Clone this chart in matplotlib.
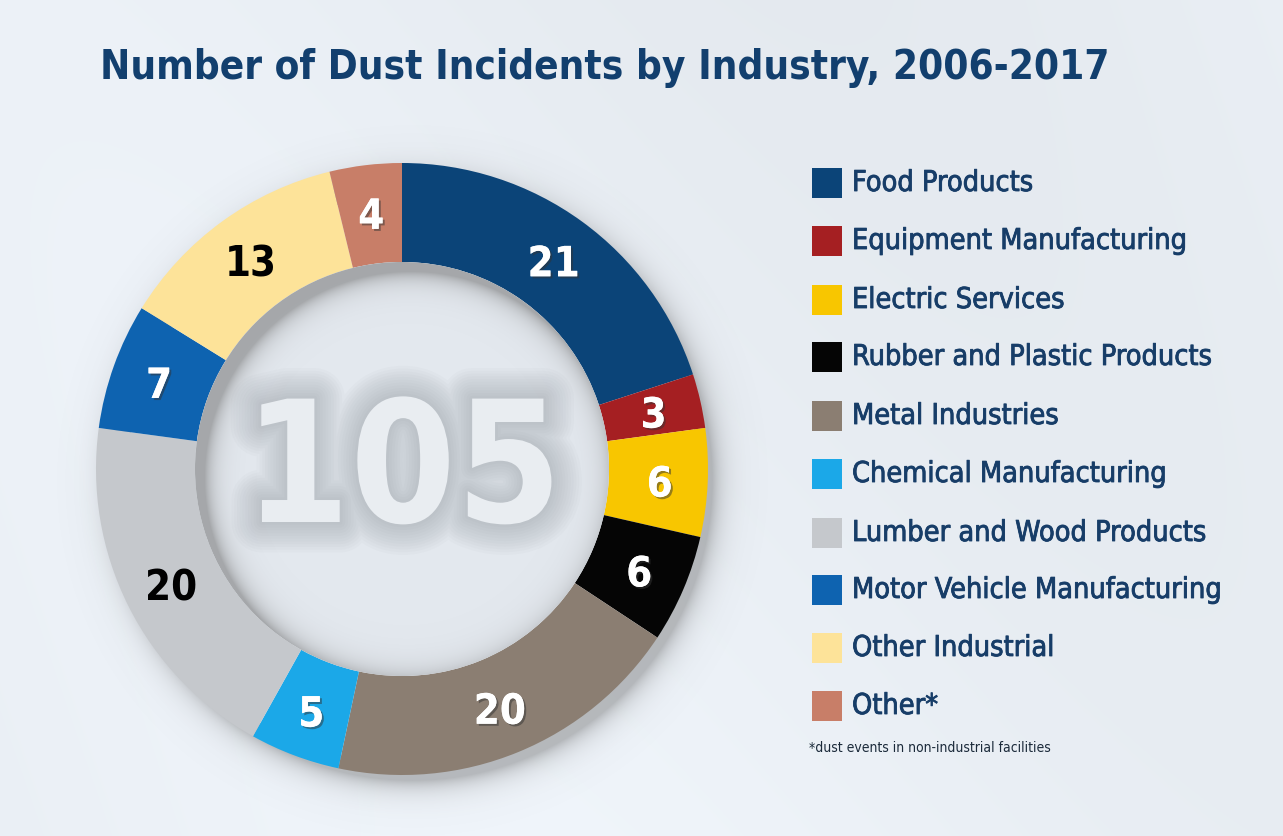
import numpy as np
import matplotlib
matplotlib.use("Agg")
import matplotlib.pyplot as plt
import matplotlib.patheffects as pe
from matplotlib.patches import Circle, Rectangle
from matplotlib import font_manager as fm
from matplotlib.font_manager import FontProperties

# ---------------- data ----------------
categories = ["Food Products", "Equipment Manufacturing", "Electric Services",
              "Rubber and Plastic Products", "Metal Industries", "Chemical Manufacturing",
              "Lumber and Wood Products", "Motor Vehicle Manufacturing",
              "Other Industrial", "Other*"]
values = [21, 3, 6, 6, 20, 5, 20, 7, 13, 4]
colors = ["#0b4478", "#a51f22", "#f8c600", "#050505", "#8b7e72", "#1ba8e8",
          "#c5c8cc", "#0e63b0", "#fde399", "#c87e68"]
label_colors = ["white", "white", "white", "white", "white", "white",
                "black", "white", "black", "white"]
total_label = str(sum(values))
title = "Number of Dust Incidents by Industry, 2006-2017"
footnote = "*dust events in non-industrial facilities"


# ---------------- font choice: prefer a condensed face if one is installed ----------------
def find_font(bold):
    cands = []
    for f in fm.fontManager.ttflist:
        fn = f.fname.lower()
        st = str(f.stretch).lower()
        is_cond = ("condensed" in fn or "narrow" in fn or "condensed" in st or "narrow" in st
                   or (st.isdigit() and int(st) < 500))
        if not is_cond or "oblique" in fn or "italic" in fn or f.style != "normal":
            continue
        w = f.weight if isinstance(f.weight, int) else (700 if "bold" in str(f.weight) else 400)
        is_bold = w >= 600
        if is_bold == bold:
            cands.append(f.fname)
    if cands:
        cands.sort(key=lambda p: (0 if "dejavu" in p.lower() else 1, p))
        return FontProperties(fname=cands[0])
    return FontProperties(family=["Roboto", "DejaVu Sans"],
                          weight="bold" if bold else "normal")


FP_BOLD = find_font(True)
FP_REG = find_font(False)

W, H = 1283, 836
fig = plt.figure(figsize=(W / 100, H / 100), dpi=100)
ax = fig.add_axes([0, 0, 1, 1])
ax.set_xlim(0, W)
ax.set_ylim(0, H)
ax.axis("off")
renderer = fig.canvas.get_renderer()


def fit_width(t, target_px, max_size):
    bb = t.get_window_extent(renderer)
    size = t.get_fontsize() * target_px / max(bb.width, 1)
    t.set_fontsize(min(size, max_size))


# background gradient
yy, xx = np.mgrid[0:H, 0:W]
base = np.array([0.912, 0.932, 0.955])
band = 0.015 * np.cos((xx - yy * 0.6) / 260.0) + 0.012 * (yy / H)
bg = np.clip(base[None, None, :] + band[..., None], 0, 1)
ax.imshow(bg, extent=(0, W, 0, H), origin="upper", zorder=0, aspect="auto")

cx, cy = 402, H - 469
r_out, r_in = 306, 207

# outer drop shadow
sx, sy = cx + 10, cy - 12
d = np.sqrt((xx - sx) ** 2 + ((H - 1 - yy) - sy) ** 2)
sh = np.exp(-np.clip(d - r_out + 6, 0, None) / 12.0) * 0.40
sh[d < r_out - 20] = 0
shadow = np.zeros((H, W, 4))
shadow[..., :3] = 0.38
shadow[..., 3] = sh
ax.imshow(shadow, extent=(0, W, 0, H), origin="upper", zorder=1, aspect="auto")

# donut
wedges, _ = ax.pie(values, colors=colors, startangle=90, counterclock=False,
                   radius=r_out, center=(cx, cy),
                   wedgeprops=dict(width=r_out - r_in, linewidth=0))
for w in wedges:
    w.set_zorder(3)
ax.set_xlim(0, W)
ax.set_ylim(0, H)
ax.set_aspect("auto")

# inner hole with thin soft shadow along its upper-left edge
hole = Circle((cx, cy), r_in, facecolor="#e3e8ee", edgecolor="none", zorder=4)
ax.add_patch(hole)
hx, hy = cx + 9, cy - 10
dh = np.sqrt((xx - hx) ** 2 + ((H - 1 - yy) - hy) ** 2)
dc = np.sqrt((xx - cx) ** 2 + ((H - 1 - yy) - cy) ** 2)
a = 0.50 * np.exp(-np.clip(r_in - dh, 0, None) / 10.0) \
    + 0.10 * np.exp(-np.clip(r_in - dc, 0, None) / 14.0)
a = np.clip(a, 0, 0.55)
a[dc > r_in + 2] = 0
hs = np.zeros((H, W, 4))
hs[..., :3] = 0.45
hs[..., 3] = a
im = ax.imshow(hs, extent=(0, W, 0, H), origin="upper", zorder=5, aspect="auto")
im.set_clip_path(Circle((cx, cy), r_in, transform=ax.transData))

# centre number with a soft grey glow behind it
glow = [pe.Stroke(linewidth=lw, foreground="#7d848b", alpha=0.035) for lw in range(44, 2, -4)]
tc = ax.text(cx + 1, cy - 6, total_label, ha="center", va="center",
             fontproperties=FP_BOLD, color="#e9edf1", zorder=6,
             path_effects=glow + [pe.Normal()])
tc.set_fontsize(150)
fit_width(tc, 318, 230)

# segment labels
cum = np.cumsum([0] + values[:-1])
r_mid = 258
for v, c0, lc in zip(values, cum, label_colors):
    ang = np.deg2rad(90 - 360.0 * (c0 + v / 2) / sum(values))
    x = cx + r_mid * np.cos(ang)
    y = cy + r_mid * np.sin(ang) - 4
    effects = [pe.withSimplePatchShadow(offset=(1.5, -1.5), shadow_rgbFace="#333333", alpha=0.5), pe.Normal()] \
        if lc == "white" else []
    t = ax.text(x, y, str(v), ha="center", va="center", fontproperties=FP_BOLD,
                color=lc, zorder=7, path_effects=effects)
    t.set_fontsize(30)

# title
tt = ax.text(100, H - 68, title, ha="left", va="center", fontproperties=FP_BOLD,
             color="#123f6e", zorder=7)
tt.set_fontsize(40)
fit_width(tt, 1008, 40)

# legend
leg_y = [183, 241, 300, 357, 416, 474, 533, 590, 648, 706]
texts = []
for cat, col, py in zip(categories, colors, leg_y):
    ax.add_patch(Rectangle((812, H - py - 15), 30, 30, facecolor=col, edgecolor="none", zorder=7))
    t = ax.text(852, H - py, cat, ha="left", va="center", fontproperties=FP_REG,
                color="#173d68", zorder=7,
                path_effects=[pe.Stroke(linewidth=0.6, foreground="#173d68"), pe.Normal()])
    t.set_fontsize(21)
    texts.append(t)
# scale legend text so the longest entry spans like the reference
longest = texts[categories.index("Motor Vehicle Manufacturing")]
fit_width(longest, 370, 21)
for t in texts:
    t.set_fontsize(longest.get_fontsize())

tf = ax.text(809, H - 748, footnote, ha="left", va="center", fontproperties=FP_REG,
             color="#1b2a3a", zorder=7)
tf.set_fontsize(10)
fit_width(tf, 325, 10)

fig.savefig("out.png", dpi=100)
